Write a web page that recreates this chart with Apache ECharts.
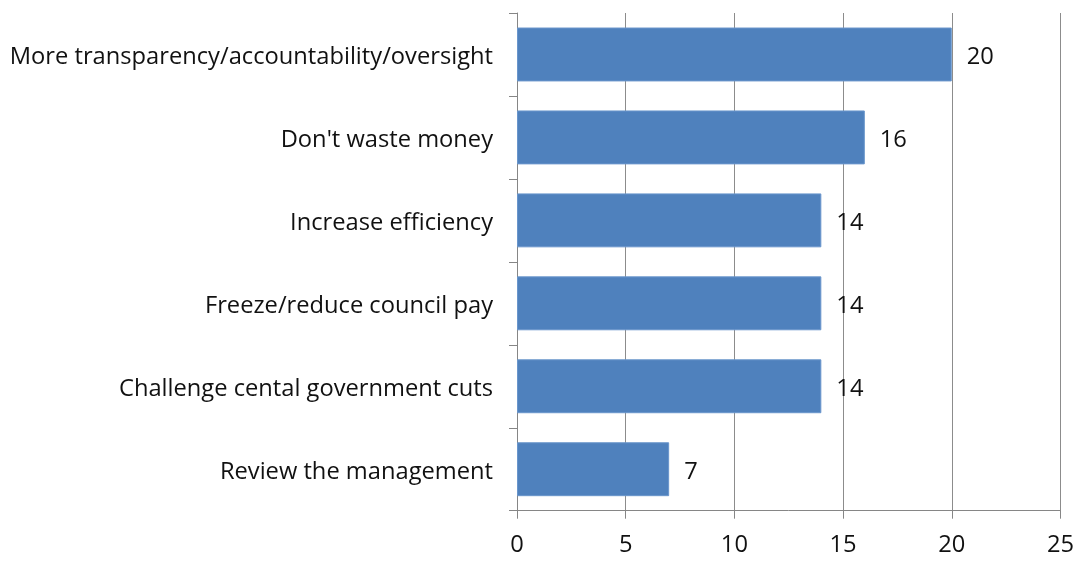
<!DOCTYPE html>
<html>
<head>
<meta charset="utf-8">
<script src="https://cdn.jsdelivr.net/npm/echarts@6/dist/echarts.min.js"></script>
<style>
  html, body { margin: 0; padding: 0; background: #fff; }
  #chart { width: 1077px; height: 561px; }
</style>
</head>
<body>
<div id="chart"></div>
<script>
// Responses, listed bottom-to-top as drawn on the category axis
const categories = [
  'Review the management',
  'Challenge cental government cuts',
  'Freeze/reduce council pay',
  'Increase efficiency',
  "Don't waste money",
  'More transparency/accountability/oversight'
];
const counts = [7, 14, 14, 14, 16, 20];
const xTicks = [0, 5, 10, 15, 20, 25];

const FONT = '"Open Sans", "Noto Sans", sans-serif';
const SIZE = 23.7;
const chart = echarts.init(document.getElementById('chart'));
chart.setOption({
  animation: false,
  grid: { left: 517, right: 16.5, top: 13, bottom: 50.3, containLabel: false },
  xAxis: {
    type: 'value',
    min: xTicks[0],
    max: xTicks[xTicks.length - 1],
    interval: 5,
    axisLine: { show: true, lineStyle: { color: '#868686', width: 1 } },
    axisTick: { show: true, length: 8, lineStyle: { color: '#868686' } },
    axisLabel: { color: '#111', fontFamily: FONT, fontSize: SIZE, margin: 23 },
    splitLine: { show: true, lineStyle: { color: '#8c8c8c', width: 1 } }
  },
  yAxis: {
    type: 'category',
    data: categories,
    axisLine: { show: true, lineStyle: { color: '#868686', width: 1 } },
    axisTick: { show: true, length: 8, alignWithLabel: false, lineStyle: { color: '#868686' } },
    axisLabel: {
      color: '#111', fontFamily: FONT, fontSize: SIZE, margin: 24,
      formatter: v => '{t|' + v + '}',
      rich: { t: { color: '#111', fontFamily: FONT, fontSize: SIZE, padding: [6, 0, 0, 0] } }
    },
    splitLine: { show: false }
  },
  series: [{
    type: 'bar',
    data: counts,
    barCategoryGap: '35%',
    itemStyle: { color: '#4F81BD', borderColor: '#6a96cc', borderWidth: 1 },
    label: {
      show: true,
      position: 'right',
      distance: 15,
      offset: [0, 3],
      color: '#111',
      fontFamily: FONT,
      fontSize: SIZE
    }
  }]
});
</script>
</body>
</html>
